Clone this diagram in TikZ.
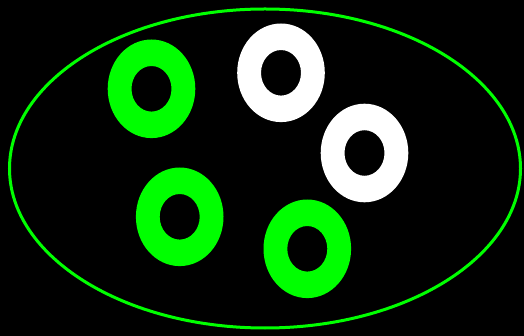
\documentclass[tikz,border=0pt]{standalone}
\begin{document}
\begin{tikzpicture}[x=1pt,y=-1pt,
  ring/.style={even odd rule,fill=#1,draw=none},
  outline/.style={draw=lime,line width=3pt}]
\definecolor{lime}{RGB}{0,255,0}
\fill[black] (0,0) rectangle (524,336);
\useasboundingbox (0,0) rectangle (524,336);
\draw[outline] (265,168.5) ellipse [x radius=255.5, y radius=159.5];
\coordinate (r1) at (151.5,88.8);
\coordinate (r2) at (281,72.8);
\coordinate (r3) at (364.5,153);
\coordinate (r4) at (179.7,216.8);
\coordinate (r5) at (307.3,248.8);
\foreach \c/\col in {r1/lime,r2/white,r3/white,r4/lime,r5/lime}{
  \path[ring=\col] (\c) ellipse [x radius=43.8, y radius=49.3] (\c) ellipse [x radius=20, y radius=22.8];
}
\end{tikzpicture}
\end{document}
